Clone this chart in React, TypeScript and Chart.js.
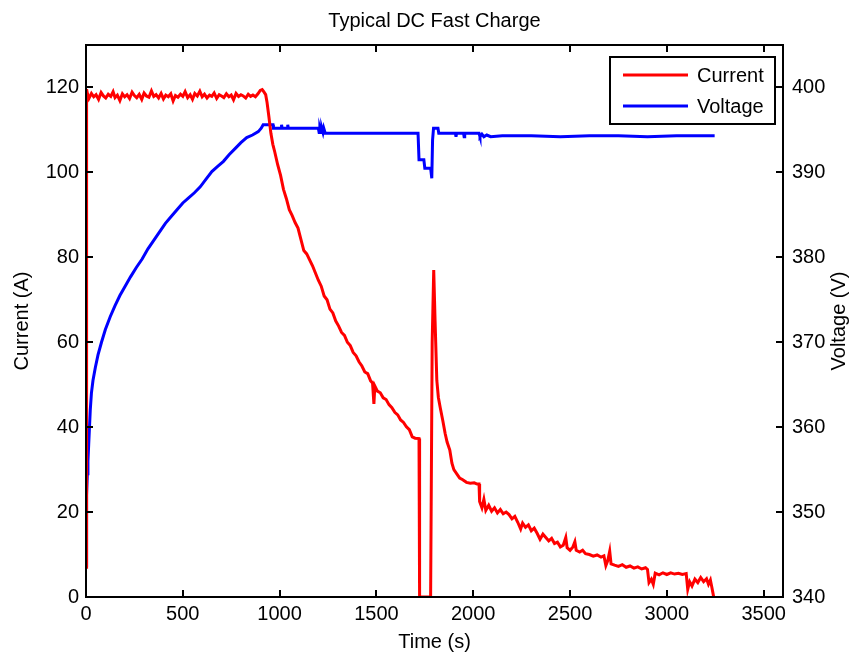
import { useEffect, useRef } from 'react';
import { Chart, registerables } from 'chart.js';

Chart.register(...registerables);

const FONT = '"Liberation Sans", Arial, Helvetica, sans-serif';
const TITLE = 'Typical DC Fast Charge';
const X_LABEL = 'Time (s)';
const Y_LABEL = 'Current (A)';
const Y1_LABEL = 'Voltage (V)';
const SERIES_NAMES = ['Current', 'Voltage'];
const SERIES_COLORS = ['#ff0000', '#0000ff'];

const X_TICKS = [0, 500, 1000, 1500, 2000, 2500, 3000, 3500];
const CURRENT_TICKS = [0, 20, 40, 60, 80, 100, 120];
const VOLTAGE_TICKS = [340, 350, 360, 370, 380, 390, 400];

// [time (s), current (A)]
const currentReadings: [number, number][] = [
  [0, 7], [3, 119.6], [8, 118.4], [15, 117.4], [28, 118.6], [40, 117.8], [52, 118.3], [65, 117.2],
  [78, 118.8], [90, 118.0], [102, 117.5], [115, 118.4], [128, 117.9], [140, 119.0], [150, 117.6],
  [162, 118.2], [175, 116.9], [188, 118.5], [200, 117.8], [212, 118.3], [225, 117.4], [238, 118.9],
  [250, 118.1], [262, 117.6], [275, 118.4], [288, 117.2], [300, 118.7], [312, 118.0], [325, 117.7],
  [338, 119.2], [350, 117.9], [362, 118.3], [375, 117.5], [388, 118.6], [400, 117.3], [412, 118.2],
  [425, 117.8], [438, 118.5], [450, 116.8], [462, 118.1], [475, 117.7], [488, 118.4], [500, 117.9],
  [512, 119.0], [525, 117.6], [538, 118.3], [550, 117.2], [562, 118.6], [575, 118.0], [588, 119.1],
  [600, 117.8], [612, 118.4], [625, 117.5], [638, 118.2], [650, 117.9], [662, 118.7], [675, 117.4],
  [688, 118.3], [700, 118.0], [712, 117.6], [725, 118.5], [738, 117.8], [750, 118.2], [762, 117.1],
  [775, 118.6], [788, 117.9], [800, 118.3], [812, 118.0], [825, 117.5], [838, 118.4], [850, 117.9],
  [862, 118.2], [875, 117.8], [888, 118.5], [900, 119.3], [910, 119.5], [918, 119.0], [928, 118.3],
  [935, 116.5], [945, 113.0], [955, 109.2], [965, 106.6], [975, 104.8], [990, 101.8], [1005, 99.3],
  [1020, 96.0], [1035, 93.8], [1050, 91.2], [1065, 89.8], [1080, 88.2], [1095, 86.9], [1110, 84.2],
  [1125, 81.6], [1140, 80.8], [1155, 79.4], [1170, 78.0], [1185, 76.3], [1200, 74.6], [1215, 73.2],
  [1230, 70.9], [1245, 70.0], [1260, 67.8], [1275, 66.9], [1290, 65.0], [1305, 63.8], [1320, 62.3],
  [1335, 61.6], [1350, 60.0], [1365, 59.2], [1380, 57.6], [1395, 56.8], [1410, 55.4], [1425, 54.4],
  [1440, 53.0], [1455, 52.6], [1470, 50.9], [1480, 50.4], [1487, 45.5], [1492, 49.7], [1505, 48.5],
  [1520, 48.1], [1535, 46.9], [1550, 46.5], [1565, 45.3], [1580, 44.6], [1595, 43.5], [1610, 42.9],
  [1625, 41.7], [1640, 41.1], [1655, 40.1], [1670, 39.4], [1685, 37.7], [1700, 37.4], [1720, 37.3],
  [1723, 0], [1780, 0], [1788, 60], [1796, 77], [1803, 65], [1812, 51], [1820, 47], [1830, 44.5],
  [1843, 41.5], [1855, 38.5], [1865, 36.5], [1879, 34.6], [1890, 31.5], [1900, 30], [1915, 29],
  [1930, 28], [1946, 27.6], [1965, 27.0], [1985, 26.8], [2005, 26.9], [2020, 26.6], [2030, 26.6],
  [2033, 22.5], [2045, 21.0], [2055, 23.0], [2065, 20.4], [2080, 21.6], [2095, 20.2], [2110, 21.0],
  [2125, 19.8], [2140, 20.6], [2155, 19.6], [2170, 20.0], [2185, 19.4], [2200, 18.4], [2215, 19.0],
  [2230, 17.6], [2245, 16.0], [2255, 17.4], [2270, 16.4], [2285, 17.0], [2300, 15.6], [2315, 16.2],
  [2330, 15.0], [2345, 13.6], [2360, 14.8], [2375, 14.0], [2390, 13.2], [2405, 13.8], [2420, 12.6],
  [2435, 12.9], [2450, 11.8], [2465, 12.2], [2478, 14.0], [2485, 11.6], [2500, 11.0], [2515, 11.8],
  [2525, 13.0], [2532, 11.0], [2550, 10.6], [2565, 11.0], [2580, 10.2], [2600, 10.0], [2620, 9.6],
  [2640, 9.9], [2660, 9.4], [2675, 9.7], [2685, 7.4], [2695, 8.6], [2705, 10.8], [2712, 7.8],
  [2730, 7.5], [2750, 7.2], [2770, 7.6], [2790, 7.0], [2810, 7.3], [2830, 6.8], [2850, 7.1],
  [2870, 6.6], [2890, 6.9], [2900, 6.5], [2908, 3.4], [2920, 4.2], [2930, 3.0], [2940, 5.6],
  [2960, 5.2], [2980, 5.7], [3000, 5.3], [3020, 5.7], [3040, 5.4], [3060, 5.6], [3080, 5.3],
  [3100, 5.5], [3108, 1.8], [3118, 3.6], [3130, 2.6], [3145, 4.2], [3160, 3.4], [3175, 4.6],
  [3190, 3.6], [3205, 4.3], [3215, 3.0], [3225, 4.0], [3232, 2.4], [3237, 1.2], [3242, 0],
];

// [time (s), voltage (V)]
const voltageReadings: [number, number][] = [
  [0, 343.7], [2, 348], [4, 352], [7, 354.5], [10, 356], [14, 358], [18, 360], [22, 362], [28, 364],
  [36, 365.5], [48, 367], [62, 368.5], [80, 370], [100, 371.5], [125, 373], [150, 374.3], [175, 375.5],
  [200, 376.5], [230, 377.7], [260, 378.8], [290, 379.8], [320, 381], [350, 382], [380, 383],
  [410, 384], [440, 384.8], [470, 385.6], [500, 386.4], [530, 387], [560, 387.6], [590, 388.3],
  [620, 389.2], [650, 390.1], [680, 390.7], [710, 391.3], [740, 392.1], [770, 392.8], [800, 393.5],
  [830, 394.1], [860, 394.4], [890, 394.8], [905, 395.2], [915, 395.6], [950, 395.6], [966, 395.6],
  [968, 395.2], [1008, 395.2], [1010, 395.6], [1013, 395.2], [1040, 395.2], [1042, 395.6],
  [1045, 395.2], [1200, 395.2], [1204, 394.7], [1208, 395.2], [1214, 394.7], [1218, 395.2],
  [1224, 394.7], [1228, 395.2], [1236, 394.6], [1715, 394.6], [1720, 391.5], [1745, 391.5],
  [1750, 390.5], [1780, 390.5], [1786, 389.3], [1790, 393.8], [1795, 395.2], [1818, 395.2],
  [1822, 394.6], [1908, 394.6], [1911, 394.2], [1914, 394.6], [1950, 394.6], [1953, 394.2],
  [1956, 394.6], [2030, 394.6], [2035, 394.2], [2045, 394.5], [2055, 394.2], [2070, 394.4],
  [2090, 394.2], [2150, 394.3], [2300, 394.3], [2450, 394.2], [2600, 394.3], [2750, 394.3],
  [2900, 394.2], [3050, 394.3], [3247, 394.3],
];

const decorPlugin = {
  id: 'decor',
  afterDraw(chart: any) {
    const { ctx, chartArea: a, scales } = chart;
    const L = Math.round(a.left), R = Math.round(a.right), T = Math.round(a.top), B = Math.round(a.bottom);
    const TL = 7;
    ctx.save();
    ctx.strokeStyle = '#000';
    ctx.lineWidth = 2;
    ctx.strokeRect(L, T, R - L, B - T);
    ctx.beginPath();
    X_TICKS.forEach((v) => {
      const px = Math.round(scales.x.getPixelForValue(v));
      ctx.moveTo(px, B); ctx.lineTo(px, B - TL);
      ctx.moveTo(px, T); ctx.lineTo(px, T + TL);
    });
    CURRENT_TICKS.forEach((v) => {
      const py = Math.round(scales.y.getPixelForValue(v));
      ctx.moveTo(L, py); ctx.lineTo(L + TL, py);
    });
    VOLTAGE_TICKS.forEach((v) => {
      const py = Math.round(scales.y1.getPixelForValue(v));
      ctx.moveTo(R, py); ctx.lineTo(R - TL, py);
    });
    ctx.stroke();

    ctx.fillStyle = '#000';
    ctx.font = `20px ${FONT}`;
    ctx.textAlign = 'center';
    ctx.textBaseline = 'middle';
    const cx = (L + R) / 2;
    const cy = (T + B) / 2;
    ctx.fillText(TITLE, cx, 21);
    ctx.fillText(X_LABEL, cx, 642);
    ctx.save();
    ctx.translate(22, cy);
    ctx.rotate(-Math.PI / 2);
    ctx.fillText(Y_LABEL, 0, 0);
    ctx.restore();
    ctx.save();
    ctx.translate(839, cy);
    ctx.rotate(-Math.PI / 2);
    ctx.fillText(Y1_LABEL, 0, 0);
    ctx.restore();

    // legend
    const bw = 165, bh = 67;
    const bx = R - 8 - bw, by = T + 12;
    ctx.fillStyle = '#fff';
    ctx.fillRect(bx, by, bw, bh);
    ctx.lineWidth = 2;
    ctx.strokeStyle = '#000';
    ctx.strokeRect(bx, by, bw, bh);
    SERIES_NAMES.forEach((name, i) => {
      const ly = by + 18 + i * 31;
      ctx.strokeStyle = SERIES_COLORS[i];
      ctx.lineWidth = 3;
      ctx.beginPath();
      ctx.moveTo(bx + 13, ly);
      ctx.lineTo(bx + 78, ly);
      ctx.stroke();
      ctx.fillStyle = '#000';
      ctx.textAlign = 'left';
      ctx.fillText(name, bx + 87, ly + 1);
    });
    ctx.restore();
  },
};

export default function App() {
  const ref = useRef<HTMLCanvasElement | null>(null);
  useEffect(() => {
    if (!ref.current) return;
    const tickFont = { family: FONT, size: 20 };
    const plain = (v: any) => String(v);
    const chart = new Chart(ref.current, {
      type: 'line',
      data: {
        datasets: [
          {
            label: SERIES_NAMES[0],
            data: currentReadings.map(([x, y]) => ({ x, y })),
            yAxisID: 'y',
            borderColor: SERIES_COLORS[0],
            borderWidth: 3,
            pointRadius: 0,
            tension: 0,
            fill: false,
          },
          {
            label: SERIES_NAMES[1],
            data: voltageReadings.map(([x, y]) => ({ x, y })),
            yAxisID: 'y1',
            borderColor: SERIES_COLORS[1],
            borderWidth: 3,
            pointRadius: 0,
            tension: 0,
            fill: false,
          },
        ],
      },
      options: {
        animation: false,
        responsive: false,
        devicePixelRatio: 1,
        layout: { padding: { top: 45, left: 0, right: 0, bottom: 0 } },
        plugins: {
          legend: { display: false },
          title: { display: false },
          tooltip: { enabled: false },
        },
        scales: {
          x: {
            type: 'linear',
            position: 'bottom',
            min: 0,
            max: 3600,
            grid: { display: false, drawTicks: false },
            border: { display: false },
            ticks: { font: tickFont, color: '#000', padding: 5, maxRotation: 0, callback: plain },
            afterBuildTicks: (s: any) => { s.ticks = X_TICKS.map((value) => ({ value })); },
            afterFit: (s: any) => { s.height = 55; },
          },
          y: {
            type: 'linear',
            position: 'left',
            min: 0,
            max: 130,
            grid: { display: false, drawTicks: false },
            border: { display: false },
            ticks: { font: tickFont, color: '#000', padding: 7, callback: plain },
            afterBuildTicks: (s: any) => { s.ticks = CURRENT_TICKS.map((value) => ({ value })); },
            afterFit: (s: any) => { s.width = 86; },
          },
          y1: {
            type: 'linear',
            position: 'right',
            min: 340,
            max: 405,
            grid: { display: false, drawTicks: false },
            border: { display: false },
            ticks: { font: tickFont, color: '#000', padding: 9, callback: plain },
            afterBuildTicks: (s: any) => { s.ticks = VOLTAGE_TICKS.map((value) => ({ value })); },
            afterFit: (s: any) => { s.width = 68; },
          },
        },
      },
      plugins: [decorPlugin],
    });
    return () => chart.destroy();
  }, []);
  return (
    <div style={{ position: 'absolute', left: 0, top: 0, width: 851, height: 652, background: '#fff' }}>
      <canvas ref={ref} width={851} height={652} />
    </div>
  );
}
